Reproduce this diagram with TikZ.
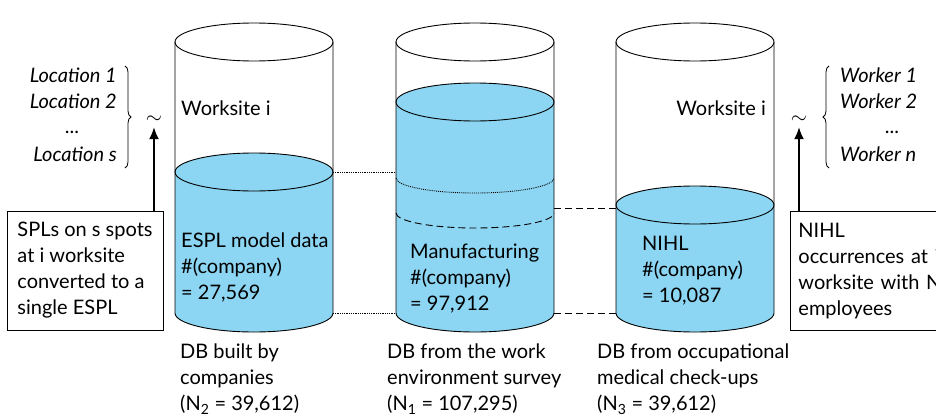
\documentclass[tikz,border=0pt]{standalone}
\usepackage{fontspec}
\setmainfont{Lato}
\usetikzlibrary{positioning}
\usetikzlibrary{arrows.meta}
\usetikzlibrary{decorations.pathreplacing}
\definecolor{dbblue}{RGB}{141,214,243}
\tikzstyle{lbl} = [inner sep=0pt, font=\fontsize{20}{26}\selectfont, text height=14pt, text depth=4pt]
\tikzstyle{txtnode} = [inner sep=0pt, align=left, anchor=north west, font=\fontsize{20}{26}\selectfont]
\tikzstyle{boxnode} = [draw, rectangle, line width=0.9pt, inner xsep=8pt, align=left, font=\fontsize{20}{26}\selectfont]
\tikzstyle{shell} = [line width=0.9pt]
\tikzstyle{upar} = [line width=1.6pt, -{Latex[length=12pt,width=10pt]}]

\begin{document}
\begin{tikzpicture}[x=1pt, y=1pt]
  \clip (0,0) rectangle (936,416);

  % cylinders: centre x / liquid level
  \foreach \cx/\lvl in {254/244, 475/314, 695/211} {
    \fill[dbblue] (\cx-79,\lvl) -- (\cx-79,103)
      arc[start angle=180, end angle=360, x radius=79, y radius=19]
      -- (\cx+79,\lvl)
      arc[start angle=0, end angle=180, x radius=79, y radius=19] -- cycle;
    \draw[shell] (\cx,\lvl) ellipse [x radius=79, y radius=19];
    \draw[shell] (\cx,374) ellipse [x radius=79, y radius=19];
    \draw[shell] (\cx-79,374) -- (\cx-79,103)
      arc[start angle=180, end angle=360, x radius=79, y radius=19]
      -- (\cx+79,374);
  }
  \draw[shell, densely dotted] (396,238) arc[start angle=180, end angle=360, x radius=79, y radius=15];
  \draw[shell, dash pattern=on 7pt off 4pt] (396,203) arc[start angle=180, end angle=360, x radius=79, y radius=15];

  \coordinate (A_top) at (333,244);
  \coordinate (A_bot) at (333,103);
  \coordinate (B_top) at (396,244);
  \coordinate (B_bot) at (396,103);
  \coordinate (B_mid) at (554,208);
  \coordinate (B_low) at (554,103);
  \coordinate (C_mid) at (616,208);
  \coordinate (C_low) at (616,103);

  \draw[line width=0.8pt, densely dotted] (A_top) -- (B_top);
  \draw[line width=0.8pt, densely dotted] (A_bot) -- (B_bot);
  \draw[line width=0.8pt, dash pattern=on 7pt off 4pt] (B_mid) -- (C_mid);
  \draw[line width=0.8pt, dash pattern=on 7pt off 4pt] (B_low) -- (C_low);

  % texts in the cylinders
  \node[lbl, anchor=west] (ws_a) at (181,306) {Worksite i};
  \node[lbl, anchor=east] (ws_c) at (766,306) {Worksite i};
  \node[txtnode] (data_a) at (181,183) {ESPL model data\\\#(company)\\= 27,569};
  \node[txtnode] (data_b) at (410,172) {Manufacturing\\\#(company)\\= 97,912};
  \node[txtnode] (data_c) at (642,180) {NIHL\\\#(company)\\= 10,087};

  % captions
  \node[txtnode] (cap_a) at (180,72) {DB built by\\companies\\(N\textsubscript{2} = 39,612)};
  \node[txtnode] (cap_b) at (387,72) {DB from the work\\environment survey\\(N\textsubscript{1} = 107,295)};
  \node[txtnode] (cap_c) at (597,72) {DB from occupational\\medical check-ups\\(N\textsubscript{3} = 39,612)};

  % left side
  \node[lbl, anchor=east, font=\fontsize{20}{26}\selectfont\itshape] (loc1) at (117,339) {Location 1};
  \node[lbl, anchor=east, font=\fontsize{20}{26}\selectfont\itshape] (loc2) at (117,313) {Location 2};
  \node[lbl] (locdots) at (72,288) {...};
  \node[lbl, anchor=east, font=\fontsize{20}{26}\selectfont\itshape] (locs) at (117,260) {Location s};
  \coordinate (braceL_top) at (125,350);
  \coordinate (braceL_bot) at (125,248);
  \draw[line width=0.8pt, decorate, decoration={brace, amplitude=6pt}] (braceL_top) -- (braceL_bot);
  \node[lbl] (simL) at (154,298) {$\sim$};
  \node[boxnode, minimum width=156pt, minimum height=119pt] (spl) at (85,145.5)
    {SPLs on s spots\\at i worksite\\converted to a\\single ESPL};
  \coordinate (arrL) at (154,205);
  \draw[upar] (arrL) -- (simL.south);

  % right side
  \node[lbl, anchor=west, font=\fontsize{20}{26}\selectfont\itshape] (wk1) at (840,339) {Worker 1};
  \node[lbl, anchor=west, font=\fontsize{20}{26}\selectfont\itshape] (wk2) at (840,313) {Worker 2};
  \node[lbl] (wkdots) at (892,288) {...};
  \node[lbl, anchor=west, font=\fontsize{20}{26}\selectfont\itshape] (wkn) at (840,260) {Worker n};
  \coordinate (braceR_bot) at (829,248);
  \coordinate (braceR_top) at (829,350);
  \draw[line width=0.8pt, decorate, decoration={brace, amplitude=6pt}] (braceR_bot) -- (braceR_top);
  \node[lbl] (simR) at (799,298) {$\sim$};
  \node[boxnode, anchor=north west, minimum height=119pt, text width=200pt] (nihl) at (790,205)
    {NIHL\\occurrences at i\\worksite with N\\employees};
  \coordinate (arrR) at (799,205);
  \draw[upar] (arrR) -- (simR.south);
\end{tikzpicture}
\end{document}
